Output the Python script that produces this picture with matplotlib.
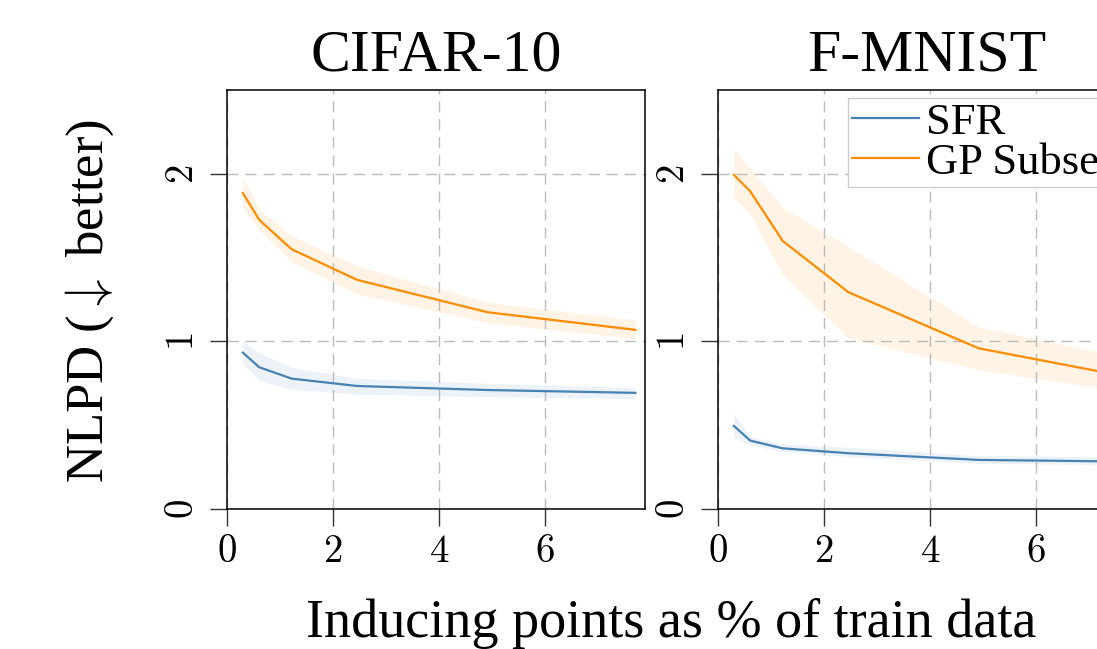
import matplotlib
matplotlib.use("Agg")
import matplotlib.pyplot as plt
from matplotlib.ticker import FuncFormatter

plt.rcParams['font.family'] = 'serif'
plt.rcParams['font.serif'] = ['Liberation Serif', 'DejaVu Serif']
plt.rcParams['mathtext.fontset'] = 'cm'

# inducing points as % of train data
pct = [0.3, 0.61, 1.22, 2.46, 4.92, 7.71]

# CIFAR-10
cifar_sfr = [0.933, 0.846, 0.778, 0.734, 0.71, 0.693]
cifar_sfr_lo = [0.87, 0.764, 0.715, 0.685, 0.67, 0.659]
cifar_sfr_hi = [1.003, 0.933, 0.844, 0.78, 0.75, 0.724]
cifar_gp = [1.885, 1.725, 1.55, 1.367, 1.174, 1.069]
cifar_gp_lo = [1.80, 1.665, 1.476, 1.283, 1.112, 1.015]
cifar_gp_hi = [1.98, 1.79, 1.63, 1.45, 1.234, 1.128]

# F-MNIST
fmnist_sfr = [0.496, 0.408, 0.362, 0.333, 0.293, 0.283]
fmnist_sfr_lo = [0.426, 0.382, 0.342, 0.312, 0.273, 0.263]
fmnist_sfr_hi = [0.567, 0.432, 0.388, 0.368, 0.318, 0.312]
fmnist_gp = [1.994, 1.895, 1.60, 1.294, 0.959, 0.79]
fmnist_gp_lo = [1.855, 1.76, 1.397, 1.019, 0.83, 0.70]
fmnist_gp_hi = [2.147, 2.03, 1.80, 1.566, 1.088, 0.90]

titles = ['CIFAR-10', 'F-MNIST']
blue = '#4682B4'
orange = '#FF8C00'

fig = plt.figure(figsize=(10.97, 6.49), dpi=100)
ax1 = fig.add_axes([0.2069, 0.2157, 0.381, 0.6456])
ax2 = fig.add_axes([0.6545, 0.2157, 0.381, 0.6456])

panels = [
    (ax1, cifar_sfr, cifar_sfr_lo, cifar_sfr_hi, cifar_gp, cifar_gp_lo, cifar_gp_hi),
    (ax2, fmnist_sfr, fmnist_sfr_lo, fmnist_sfr_hi, fmnist_gp, fmnist_gp_lo, fmnist_gp_hi),
]

tickfmt = FuncFormatter(lambda v, p: f"${v:g}$")

for i, (ax, s, slo, shi, g, glo, ghi) in enumerate(panels):
    ax.fill_between(pct, slo, shi, color=blue, alpha=0.1, lw=0)
    ax.plot(pct, s, color=blue, lw=1.6, label='SFR')
    ax.fill_between(pct, glo, ghi, color=orange, alpha=0.1, lw=0)
    ax.plot(pct, g, color=orange, lw=1.6, label='GP Subset')
    ax.set_xlim(0, 7.89)
    ax.set_ylim(0, 2.5)
    ax.set_xticks([0, 2, 4, 6])
    ax.set_yticks([0, 1, 2])
    ax.xaxis.set_major_formatter(tickfmt)
    ax.yaxis.set_major_formatter(tickfmt)
    ax.grid(True, ls=(0, (8, 5)), color='#bbbbbb', lw=1.0)
    ax.tick_params(labelsize=28, length=12, width=1.0, color='#333333', pad=6)
    for lab in ax.get_yticklabels():
        lab.set_rotation(90)
        lab.set_va('center')
    for sp in ax.spines.values():
        sp.set_linewidth(1.1)
    ax.set_title(titles[i], fontsize=43, pad=14)

fig.text(90 / 1097, 0.536, r'NLPD ($\downarrow$ better)', fontsize=38,
         rotation=90, ha='center', va='center')
fig.text(0.612, 0.0185, 'Inducing points as % of train data', fontsize=39,
         ha='center', va='baseline')

ax2.legend(loc='upper left', bbox_to_anchor=(0.311, 0.981), borderaxespad=0,
           fontsize=32, fancybox=False, edgecolor='#cccccc', framealpha=1,
           handlelength=1.5, handletextpad=0.15, labelspacing=0.0, borderpad=0.1)

fig.savefig('out.png', dpi=100)
